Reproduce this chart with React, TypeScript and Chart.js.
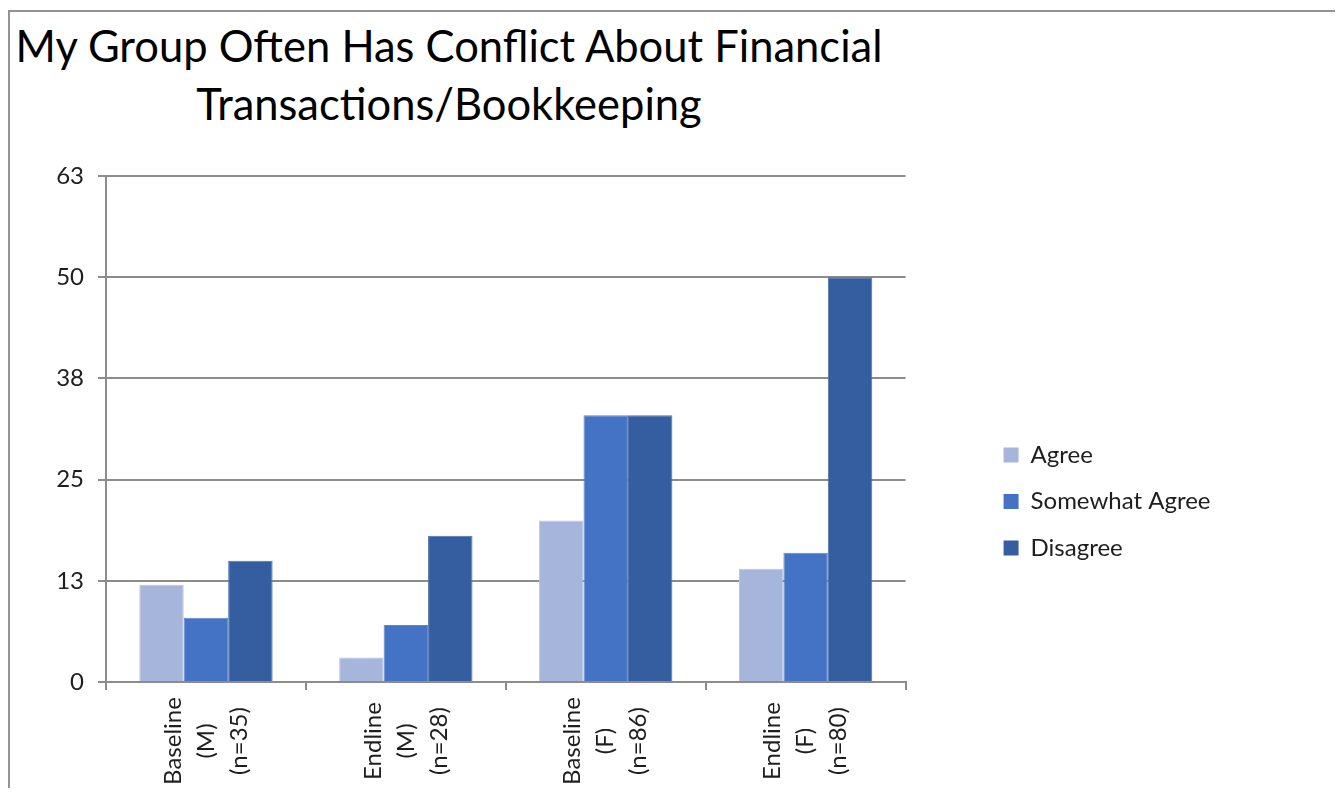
import React, { useEffect, useRef } from "react";
import { Chart, registerables } from "chart.js";

Chart.register(...registerables);

const titleLines = ["My Group Often Has Conflict About Financial", "Transactions/Bookkeeping"];
const categories = [
  ["Baseline", "(M)", "(n=35)"],
  ["Endline", "(M)", "(n=28)"],
  ["Baseline", "(F)", "(n=86)"],
  ["Endline", "(F)", "(n=80)"],
];
const seriesNames = ["Agree", "Somewhat Agree", "Disagree"];
const agreeValues = [12.1, 3.05, 20.1, 14.1];
const somewhatValues = [8.0, 7.1, 33.2, 16.1];
const disagreeValues = [15.1, 18.2, 33.2, 50.4];
const seriesColors = ["#A6B5DB", "#4472C4", "#355EA0"];
const seriesEdges = ["#B6C3E3", "#5C85CD", "#4D72AE"];
const yMin = 0;
const yMax = 63;
const yStep = 12.6;

const FONT = "Lato";
const TEXT = "#1e1e1e";
const GRID = "#8c8c8c";

const xLabelPlugin = {
  id: "xLabelPlugin",
  afterDraw(chart: any) {
    const xs = chart.scales.x;
    const ctx = chart.ctx;
    const labels = chart.data.labels as string[][];
    ctx.save();
    ctx.font = `24px ${FONT}`;
    ctx.fillStyle = TEXT;
    ctx.textAlign = "center";
    ctx.textBaseline = "middle";
    labels.forEach((lines, i) => {
      const cx = xs.getPixelForValue(i);
      lines.forEach((line, j) => {
        const lx = cx + (j - (lines.length - 1) / 2) * 33;
        ctx.save();
        ctx.translate(lx, chart.chartArea.bottom + 59);
        ctx.rotate(-Math.PI / 2);
        ctx.fillText(line, 0, 0);
        ctx.restore();
      });
    });
    ctx.restore();
  },
};

const legendShift = {
  id: "legendShift",
  afterLayout(chart: any) {
    const lg = chart.legend;
    if (!lg) return;
    const dx = chart.chartArea.right + 75.5 - lg.left;
    lg.left += dx;
    lg.right += dx;
    lg.top += 72.5;
    lg.bottom += 72.5;
  },
};

export default function App() {
  const canvasRef = useRef<HTMLCanvasElement | null>(null);

  useEffect(() => {
    if (!canvasRef.current) return;
    const chart = new Chart(canvasRef.current, {
      type: "bar",
      data: {
        labels: categories,
        datasets: [agreeValues, somewhatValues, disagreeValues].map((vals, k) => ({
          label: seriesNames[k],
          data: vals,
          backgroundColor: seriesColors[k],
          borderColor: seriesEdges[k],
          borderWidth: 1,
          barPercentage: 1.0,
          categoryPercentage: 0.667,
        })),
      },
      options: {
        animation: false,
        responsive: true,
        maintainAspectRatio: false,
        layout: { padding: { top: 168, right: 190, bottom: 0, left: 0 } },
        plugins: {
          title: { display: false },
          tooltip: { enabled: false },
          legend: {
            display: true,
            position: "right",
            align: "center",
            fullSize: false,
            maxWidth: 300,
            labels: {
              boxWidth: 15,
              boxHeight: 15,
              padding: 22.5,
              color: TEXT,
              font: { family: FONT, size: 24 },
              generateLabels: (chart: any) =>
                chart.data.datasets.map((ds: any, i: number) => ({
                  text: ds.label,
                  fillStyle: seriesColors[i],
                  strokeStyle: seriesColors[i],
                  lineWidth: 0,
                  fontColor: TEXT,
                  hidden: false,
                  datasetIndex: i,
                })),
            },
          },
        },
        scales: {
          x: {
            offset: true,
            grid: {
              display: true,
              offset: true,
              drawOnChartArea: false,
              drawTicks: true,
              tickLength: 8,
              color: GRID,
              lineWidth: 2,
            },
            border: { display: true, color: GRID, width: 2 },
            ticks: { display: false },
            afterFit: (s: any) => {
              s.height = 106;
            },
          },
          y: {
            min: yMin,
            max: yMax,
            ticks: {
              stepSize: yStep,
              callback: (v: any) => String(Math.round(Number(v))),
              color: TEXT,
              font: { family: FONT, size: 24 },
              padding: 14,
            },
            grid: { color: GRID, lineWidth: 2, tickLength: 8 },
            border: { display: true, color: GRID, width: 2 },
            afterFit: (s: any) => {
              s.width = 98;
            },
          },
        },
      },
      plugins: [xLabelPlugin, legendShift],
    });
    return () => chart.destroy();
  }, []);

  return (
    <div style={{ position: "relative", width: 1327, height: 780, overflow: "hidden", background: "#fff" }}>
      <div
        style={{
          position: "absolute",
          left: 0,
          top: 2,
          width: 1500,
          height: 900,
          borderLeft: `2px solid #939393`,
          borderTop: `2px solid #939393`,
          boxSizing: "border-box",
        }}
      />
      <div
        style={{
          position: "absolute",
          left: 0,
          top: 8,
          width: 882,
          textAlign: "center",
          fontFamily: FONT,
          fontSize: 43.5,
          lineHeight: "58px",
          color: "#000",
        }}
      >
        {titleLines.map((t) => (
          <div key={t}>{t}</div>
        ))}
      </div>
      <div style={{ position: "absolute", left: 0, top: 0, width: 1327, height: 780 }}>
        <canvas ref={canvasRef} />
      </div>
    </div>
  );
}
